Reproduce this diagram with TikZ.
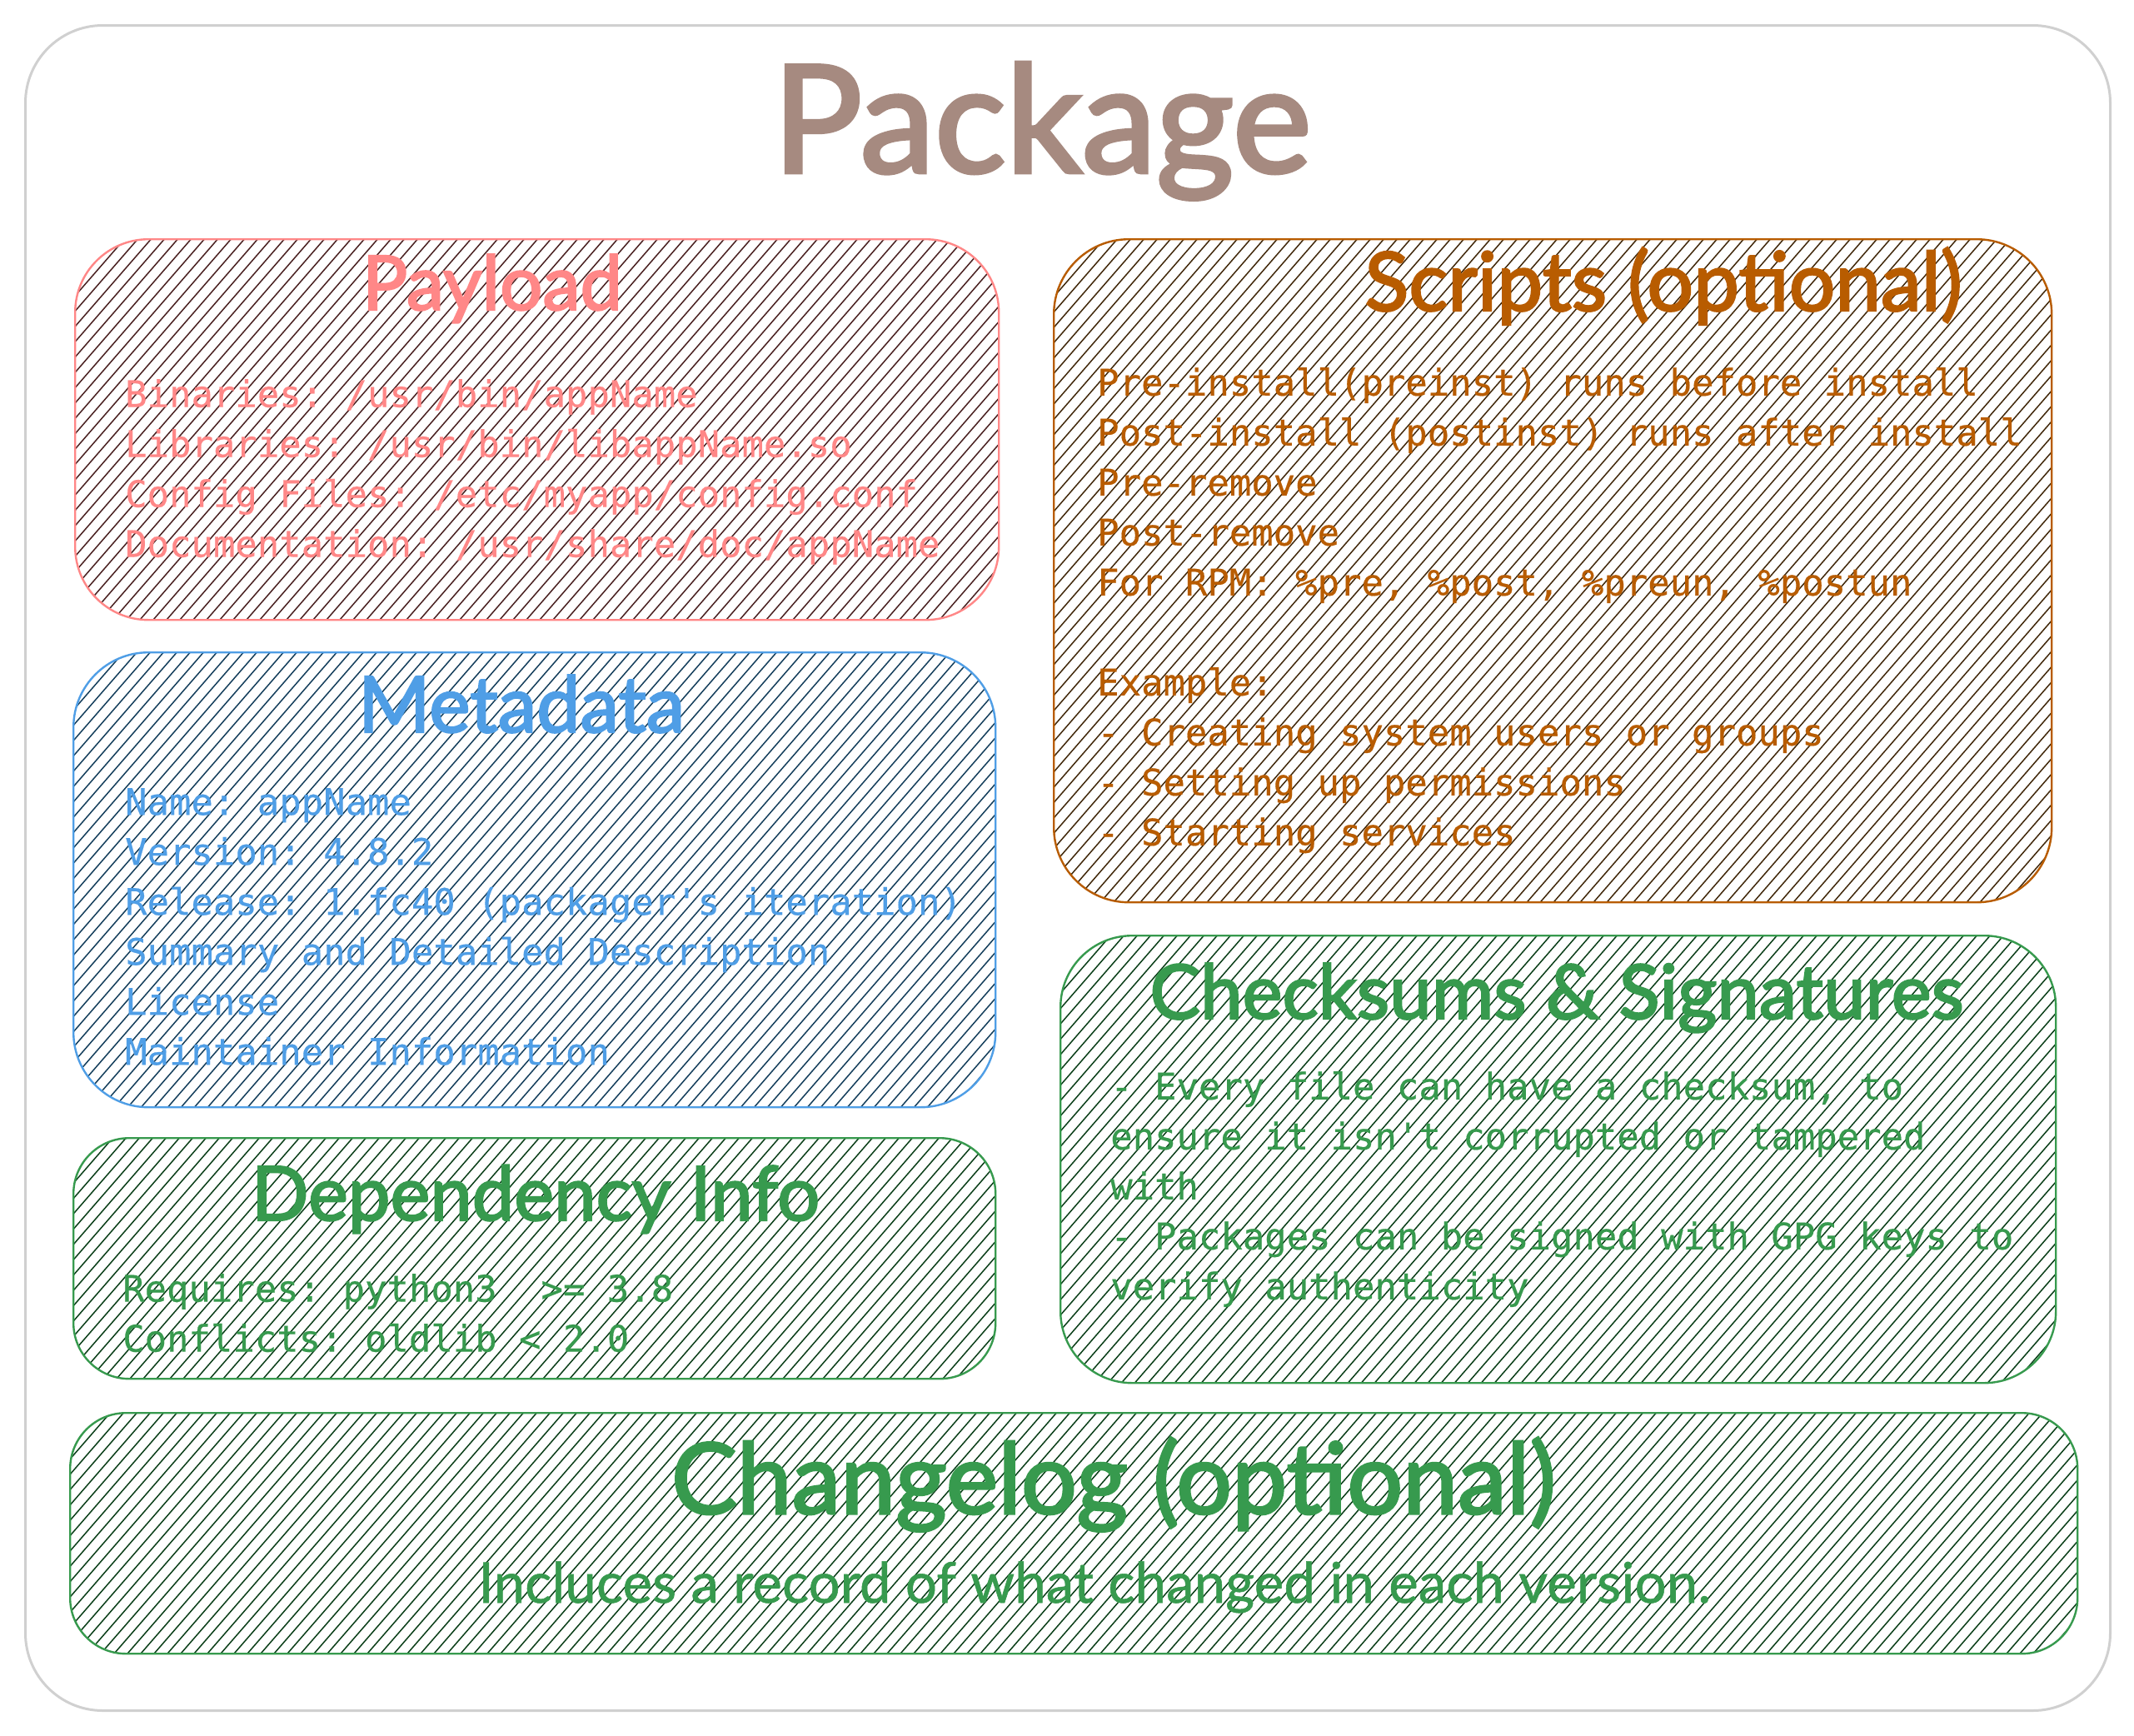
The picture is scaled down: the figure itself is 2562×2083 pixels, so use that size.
\documentclass[tikz,border=0pt]{standalone}
\usepackage{fontspec}
\setmainfont{Lato}
\newfontfamily\headfont[FakeBold=2.5]{Lato}
\newfontfamily\subfont[FakeBold=0.8]{Lato}
\setmonofont[FakeBold=0.35]{DejaVu Sans Mono}
\definecolor{cred}{HTML}{FF8787}
\definecolor{cblue}{HTML}{4F9EE6}
\definecolor{corange}{HTML}{B85C00}
\definecolor{cgreen}{HTML}{379A4E}
\definecolor{cbrown}{HTML}{A68A80}
\definecolor{cgray}{HTML}{D0D0D0}
\definecolor{hred}{HTML}{4A2222}
\definecolor{hblue}{HTML}{153F5C}
\definecolor{horange}{HTML}{42290C}
\definecolor{hgreen}{HTML}{0C401A}
\newcommand{\fitw}[2]{\resizebox{#1pt}{!}{#2}}
\tikzset{
  x=1pt,y=-1pt,
  outerbox/.style={draw=cgray,line width=3pt,rounded corners=93pt,minimum width=2503pt,minimum height=2023pt,inner sep=0pt,anchor=north west},
  hachbox/.style n args={6}{draw=#1,line width=2.4pt,rounded corners=#5pt,minimum width=#2pt,minimum height=#3pt,inner sep=0pt,anchor=north west,
    path picture={
      \pgfmathtruncatemacro{\nlines}{(#2+#3*16/18.4)/16+2}
      \foreach \k in {0,...,\nlines}{
        \draw[#6,line width=1.5pt] ([xshift={\k*16pt+#4pt}]path picture bounding box.north west) -- ++({-(#3+4)*16/18.4},{#3+4});
      }
    }},
  heading/.style={anchor=base,inner sep=0pt,font=\headfont},
  bodytext/.style={anchor=north west,inner sep=0pt,align=left,font=\fontsize{43.92}{60}\selectfont\ttfamily},
}
\begin{document}
\begin{tikzpicture}
\useasboundingbox (0,0) rectangle (2562,2083);
\fill[white] (0,0) rectangle (2562,2083);
\node[outerbox] (outer) at (29,29) {};
\node[heading,text=cbrown] (title) at (1251,207) {\fitw{646}{Package}};

\node[hachbox={cred}{1109}{457}{11}{88}{hred}] (payload) at (89,286) {};
\node[heading,text=cred] (payloadt) at (591,372) {\fitw{312}{Payload}};
\node[bodytext,text=cred] (payloadb) at (150,455) {Binaries: /usr/bin/appName\\Libraries: /usr/bin/libappName.so\\Config Files: /etc/myapp/config.conf\\Documentation: /usr/share/doc/appName};

\node[hachbox={cblue}{1107}{546}{12}{90}{hblue}] (meta) at (87,782) {};
\node[heading,text=cblue] (metat) at (626,879) {\fitw{392}{Metadata}};
\node[bodytext,text=cblue] (metab) at (150,946) {Name: appName\\Version: 4.8.2\\Release: 1.fc40 (packager's iteration)\\Summary and Detailed Description\\License\\Maintainer Information};

\node[hachbox={cgreen}{1107}{289}{15}{67}{hgreen}] (dep) at (87,1365) {};
\node[heading,text=cgreen] (dept) at (643,1465) {\fitw{682}{Dependency Info}};
\node[bodytext,text=cgreen] (depb) at (147,1529) {Requires: python3~~>= 3.8\\Conflicts: oldlib < 2.0};

\node[hachbox={corange}{1198}{796}{12}{90}{horange}] (scripts) at (1264,286) {};
\node[heading,text=corange] (scriptst) at (1997,373) {\fitw{717}{Scripts (optional)}};
\node[bodytext,text=corange] (scriptsb) at (1317,441) {Pre-install(preinst) runs before install\\Post-install (postinst) runs after install\\Pre-remove\\Post-remove\\For RPM: \%pre, \%post, \%preun, \%postun\\~\\Example:\\- Creating system users or groups\\- Setting up permissions\\- Starting services};

\node[hachbox={cgreen}{1195}{537}{12}{86}{hgreen}] (check) at (1272,1122) {};
\node[heading,text=cgreen] (checkt) at (1869,1223) {\fitw{977}{Checksums \& Signatures}};
\node[bodytext,text=cgreen] (checkb) at (1333,1286) {- Every file can have a checksum, to\\ensure it isn't corrupted or tampered\\with\\- Packages can be signed with GPG keys to\\verify authenticity};

\node[hachbox={cgreen}{2410}{289}{0}{67}{hgreen}] (log) at (83,1695) {};
\node[heading,text=cgreen] (logt) at (1337,1817) {\fitw{1061}{Changelog (optional)}};
\node[anchor=base,inner sep=0pt,text=cgreen,font=\subfont] (logb) at (1314,1924) {\fitw{1479}{Incluces a record of what changed in each version.}};
\end{tikzpicture}
\end{document}
